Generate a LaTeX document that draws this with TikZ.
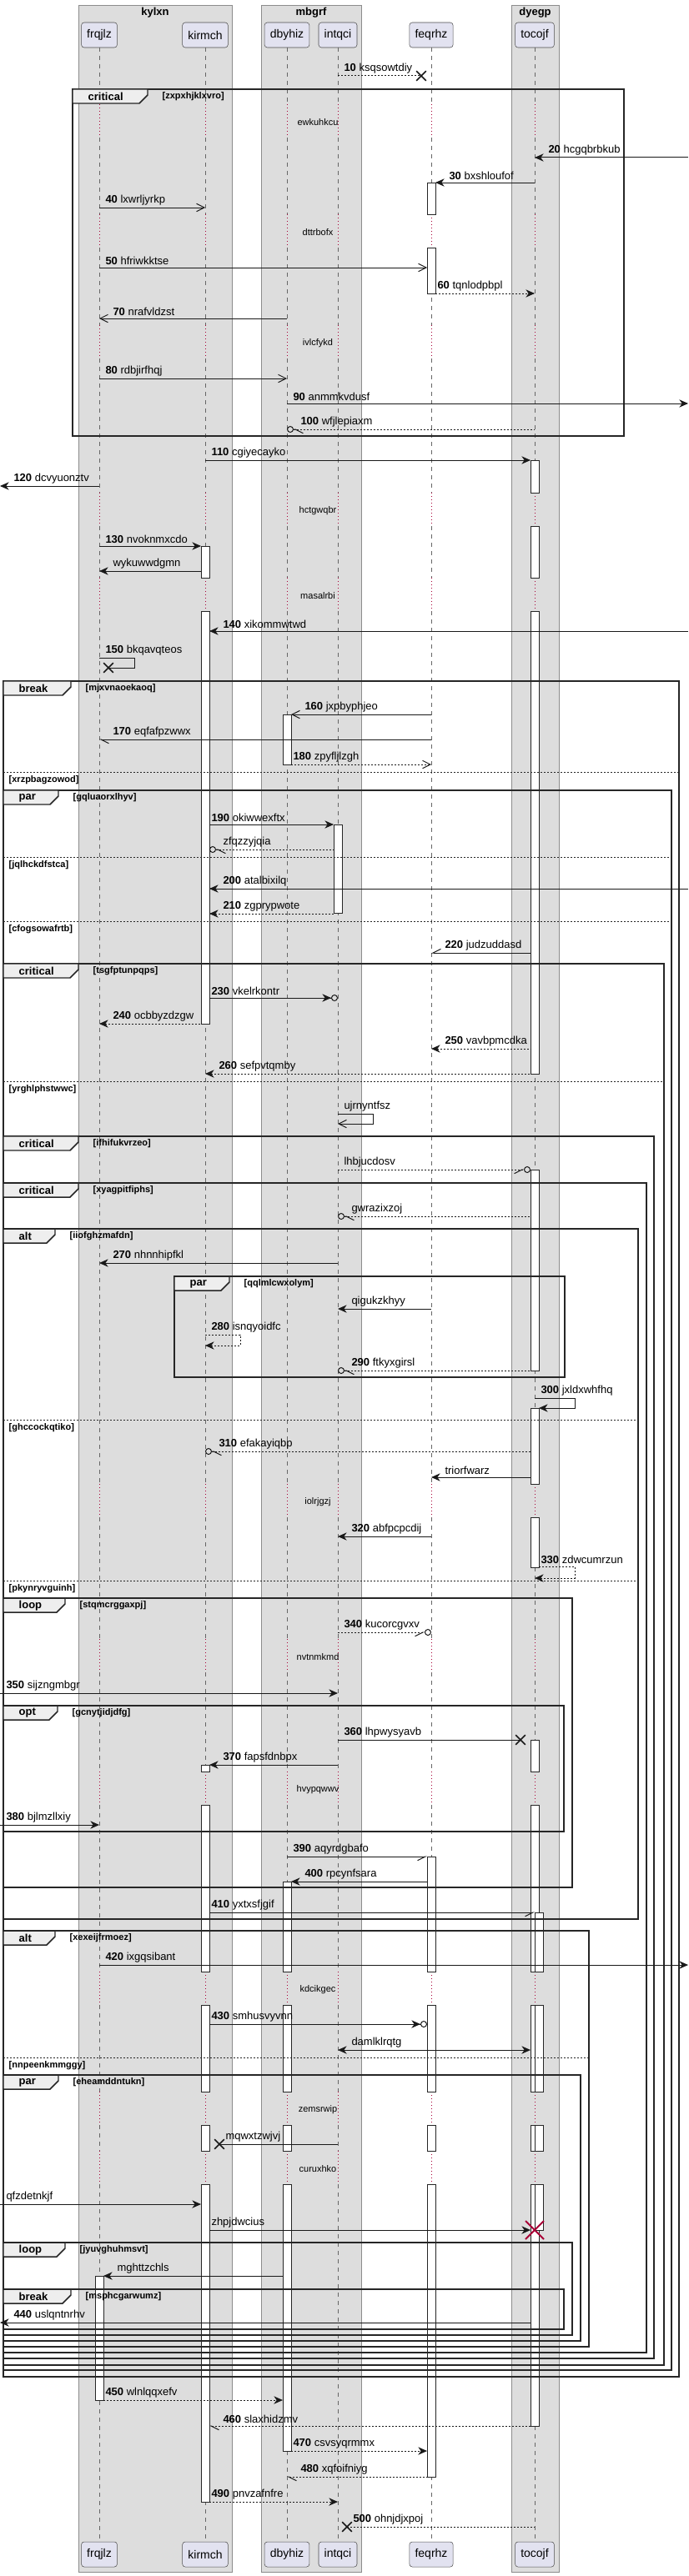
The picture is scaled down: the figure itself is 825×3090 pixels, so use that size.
\documentclass[tikz,border=0pt]{standalone}
\usepackage{fontspec}
\setmainfont{Liberation Sans}
\usetikzlibrary{arrows.meta,shapes.misc}
\definecolor{partfill}{HTML}{E2E2F0}
\definecolor{boxfill}{HTML}{DDDDDD}
\definecolor{tabfill}{HTML}{EEEEEE}
\definecolor{delayred}{HTML}{A80036}

\begin{document}
\begin{tikzpicture}[x=0.75pt,y=-0.75pt,>={Stealth[length=8pt,width=7pt,inset=2.5pt]}]
  \tikzset{part/.style={draw=black!70, fill=partfill, rounded corners=2.5pt, minimum height=22.5pt, inner xsep=5pt, font=\fontsize{10.5}{12}\selectfont},
    grp/.style={draw=black!45, fill=boxfill},
    grptitle/.style={font=\bfseries\fontsize{9.75}{11}\selectfont},
    life/.style={draw=black!60, line width=0.5pt, dash pattern=on 3.75pt off 3.75pt},
    lifed/.style={draw=delayred, line width=0.6pt, dash pattern=on 0.75pt off 2.25pt},
    act/.style={draw=black!85, fill=white, line width=0.6pt},
    dly/.style={font=\fontsize{8.25}{10}\selectfont},
    frm/.style={draw=black!85, line width=1.1pt},
    tabs/.style={draw=black!85, fill=tabfill, line width=1.1pt},
    ftitle/.style={anchor=west, font=\bfseries\fontsize{9.75}{11}\selectfont},
    fcond/.style={anchor=west, font=\bfseries\fontsize{8.25}{10}\selectfont},
    els/.style={draw=black!85, line width=0.6pt, dash pattern=on 1.5pt off 1.5pt},
    smsg/.style={draw=black!90, line width=0.75pt},
    dmsg/.style={smsg, dash pattern=on 1.5pt off 1.5pt},
    mlab/.style={anchor=south west, inner sep=0pt, yshift=2pt, font=\fontsize{9.75}{11}\selectfont},
    lr/.style={mlab, xshift=5.25pt},
    ll/.style={mlab, xshift=12pt},
    llb/.style={mlab, xshift=15.75pt},
    sl/.style={shorten <=3.75pt},
    sr/.style={shorten >=3.75pt},
    ao/.style={-{Straight Barb[length=7pt,width=7pt]}},
    bo/.style={{Straight Barb[length=7pt,width=7pt]}-},
    ahl/.style={-{Straight Barb[length=7pt,width=7pt,right]}},
    bhl/.style={{Straight Barb[length=7pt,width=7pt,left]}-},
    bhu/.style={{Straight Barb[length=7pt,width=7pt,right]}-},
    ac/.style={-{Stealth[length=8pt,width=7pt,inset=2.5pt] Circle[open,length=6pt]}},
    ac2/.style={-{Straight Barb[length=7pt,width=7pt,right] Circle[open,length=6pt]}},
    bc/.style={{Circle[open,length=6pt] Straight Barb[length=7pt,width=7pt,left]}-},
    xm/.style={cross out, draw=black!90, line width=1.2pt, minimum size=7.5pt, inner sep=0pt},
    xd/.style={cross out, draw=delayred, line width=1.5pt, minimum size=15pt, inner sep=0pt}}
  \useasboundingbox (0,0) rectangle (825,3090);
%%% boxes
  \draw[grp] (94,6) rectangle (278,3085);
  \draw[grp] (313,6) rectangle (433,3085);
  \draw[grp] (613,6) rectangle (670,3085);
  \node[grptitle] (kylxn) at (186,15) {kylxn};
  \node[grptitle] (mbgrf) at (373,15) {mbgrf};
  \node[grptitle] (dyegp) at (641.5,15) {dyegp};
%%% participants
  \foreach \p/\x in {frqjlz/119,kirmch/246,dbyhiz/344,intqci/405,feqrhz/517,tocojf/641}{
    \node[part] (\p) at (\x,42) {\p};
    \node[part] (\p2) at (\x,3064) {\p};
  }
  \coordinate (lft) at (0,0);
  \coordinate (rgt) at (825,0);
%%% lifelines, red where delayed
  \foreach \p in {frqjlz,kirmch,dbyhiz,intqci,feqrhz,tocojf}{
    \foreach \a/\b in {57/125,165/257,297/390,430/591,631/693,733/1780,1820/1966,2006/2125,2165/2365,2405/2509,2549/2580,2620/3048}
      \draw[life] (\p |- 0,\a) -- (\p |- 0,\b);
    \foreach \a/\b in {125/165,257/297,390/430,591/631,693/733,1780/1820,1966/2006,2125/2165,2365/2405,2509/2549,2580/2620}
      \draw[lifed] (\p |- 0,\a) -- (\p |- 0,\b);
  }
  \foreach \c/\dtxt [count=\i] in {147/ewkuhkcu,279/dttrbofx,412/ivlcfykd,613/hctgwqbr,715/masalrbi,1802/iolrjgzj,1988/nvtnmkmd,2147/hvypqwwv,2387/kdcikgec,2531/zemsrwip,2602/curuxhko}
    \node[dly] (dl\i) at (381,\c) {\dtxt};
%%% activations
  \foreach \p/\dx/\a/\b in {feqrhz/0/219/257,feqrhz/0/297/352,feqrhz/0/2227/2365,feqrhz/0/2405/2509,feqrhz/0/2549/2580,feqrhz/0/2620/2971,
      tocojf/0/552/591,tocojf/0/631/693,tocojf/0/733/1288,tocojf/0/1403/1644,tocojf/0/1689/1780,tocojf/0/1820/1880,tocojf/0/2087/2125,
      tocojf/0/2165/2365,tocojf/0/2405/2509,tocojf/0/2549/2580,tocojf/0/2620/2910,
      tocojf/3.75/2294/2365,tocojf/3.75/2405/2509,tocojf/3.75/2549/2580,tocojf/3.75/2620/2675,
      kirmch/0/655/693,kirmch/0/733/1228,kirmch/0/2117/2125,kirmch/0/2165/2365,kirmch/0/2405/2509,kirmch/0/2549/2580,kirmch/0/2620/3001,
      dbyhiz/0/857/917,dbyhiz/0/2257/2365,dbyhiz/0/2405/2509,dbyhiz/0/2549/2580,dbyhiz/0/2620/2940,
      intqci/0/989/1095,frqjlz/0/2730/2879}
    \draw[act] ([xshift=\dx*1pt-3.75pt]\p |- 0,\a) rectangle ([xshift=\dx*1pt+3.75pt]\p |- 0,\b);
%%% groups
  \foreach \xa/\ya/\xb/\yb/\kind/\tw/\cond [count=\i] in {87/107/748/523/critical/90/zxpxhjklxvro,
      4/817/814/2851/break/81/mjxvnaoekaoq,4/948/805/2843/par/66/gqluaorxlhyv,
      4/1156/796/2837/critical/90/tsgfptunpqps,4/1363/784/2829/critical/90/ifhifukvrzeo,
      4/1419/775/2822/critical/90/xyagpitfiphs,4/1474/765/2302/alt/62/iiofghzmafdn,
      209/1531/677/1652/par/66/qqlmlcwxolym,4/1917/686/2264/loop/74/stqmcrggaxpj,
      4/2046/676/2197/opt/65/gcnytjidjdfg,4/2316/706/2815/alt/62/xexeijfrmoez,
      4/2489/696/2808/par/66/eheamddntukn,4/2690/686/2801/loop/74/jyuvghuhmsvt,
      4/2746/676/2794/break/81/msphcgarwumz}{
    \draw[frm] (\xa,\ya) rectangle (\xb,\yb);
    \draw[tabs] (\xa,\ya) -- (\xa+\tw,\ya) -- (\xa+\tw,\ya+7) -- (\xa+\tw-10,\ya+17) -- (\xa,\ya+17) -- cycle;
    \node[ftitle] (fk\i) at (\xa+14,\ya+9) {\kind};
    \node[fcond] (fc\i) at (\xa+\tw+13,\ya+9) {[\cond]};
  }
  \foreach \xa/\xb/\y/\cond [count=\i] in {4/814/926/xrzpbagzowod,4/805/1028/jqlhckdfstca,4/805/1105/cfogsowafrtb,
      4/796/1297/yrghlphstwwc,4/765/1703/ghccockqtiko,4/765/1896/pkynryvguinh,4/706/2468/nnpeenkmmggy}{
    \draw[els] (\xa,\y) -- (\xb,\y);
    \node[fcond] (ec\i) at (\xa+2,\y+10) {[\cond]};
  }
%%% messages
  \node[xm] (x1) at ([xshift=-9pt]feqrhz |- 0,91) {};
  \draw[dmsg] (intqci |- 0,91) node[lr] (m1) {\textbf{10} ksqsowtdiy} -- (x1.center);
  \draw[smsg,<-] (tocojf |- 0,189) node[ll] (m2) {\textbf{20} hcgqbrbkub} -- (rgt |- 0,189);
  \draw[smsg,<-,sl] (feqrhz |- 0,219) node[llb] (m3) {\textbf{30} bxshloufof} -- (tocojf |- 0,219);
  \draw[smsg,ao] (frqjlz |- 0,249) node[lr] (m4) {\textbf{40} lxwrljyrkp} -- (kirmch |- 0,249);
  \draw[smsg,ao,sr] (frqjlz |- 0,321) node[lr] (m5) {\textbf{50} hfriwkktse} -- (feqrhz |- 0,321);
  \draw[dmsg,->,sl] (feqrhz |- 0,352) node[lr] (m6) {\textbf{60} tqnlodpbpl} -- (tocojf |- 0,352);
  \draw[smsg,bo] (frqjlz |- 0,382) node[ll] (m7) {\textbf{70} nrafvldzst} -- (dbyhiz |- 0,382);
  \draw[smsg,ao] (frqjlz |- 0,454) node[lr] (m8) {\textbf{80} rdbjirfhqj} -- (dbyhiz |- 0,454);
  \draw[smsg,->] (dbyhiz |- 0,484) node[lr] (m9) {\textbf{90} anmmkvdusf} -- (rgt |- 0,484);
  \draw[dmsg,bc] (dbyhiz |- 0,515) node[ll] (m10) {\textbf{100} wfjlepiaxm} -- (tocojf |- 0,515);
  \draw[smsg,->,sr] (kirmch |- 0,552) node[lr] (m11) {\textbf{110} cgiyecayko} -- (tocojf |- 0,552);
  \draw[smsg,<-] (lft |- 0,583) node[ll] (m12) {\textbf{120} dcvyuonztv} -- (frqjlz |- 0,583);
  \draw[smsg,->,sr] (frqjlz |- 0,655) node[lr] (m13) {\textbf{130} nvoknmxcdo} -- (kirmch |- 0,655);
  \draw[smsg,<-,sr] (frqjlz |- 0,685) node[ll] (m14) {wykuwwdgmn} -- (kirmch |- 0,685);
  \draw[smsg,<-,sl] (kirmch |- 0,757) node[llb] (m15) {\textbf{140} xikommwtwd} -- (rgt |- 0,757);
  \node[xm] (x2) at ([xshift=8.25pt]frqjlz |- 0,801) {};
  \draw[smsg] (frqjlz |- 0,789) node[lr] (m16) {\textbf{150} bkqavqteos} -- ++(42,0) -- ++(0,12) -- (x2.center);
  \draw[smsg,bo,sl] (dbyhiz |- 0,857) node[llb] (m17) {\textbf{160} jxpbyphjeo} -- (feqrhz |- 0,857);
  \draw[smsg,bhl] (frqjlz |- 0,887) node[ll] (m18) {\textbf{170} eqfafpzwwx} -- (feqrhz |- 0,887);
  \draw[dmsg,ao,sl] (dbyhiz |- 0,917) node[lr] (m19) {\textbf{180} zpyfljlzgh} -- (feqrhz |- 0,917);
  \draw[smsg,->,sl,sr] (kirmch |- 0,989) node[lr] (m20) {\textbf{190} okiwwexftx} -- (intqci |- 0,989);
  \draw[dmsg,bc,sl,sr] (kirmch |- 0,1019) node[llb] (m21) {zfqzzyjqia} -- (intqci |- 0,1019);
  \draw[smsg,<-,sl] (kirmch |- 0,1066) node[llb] (m22) {\textbf{200} atalbixilq} -- (rgt |- 0,1066);
  \draw[dmsg,<-,sl,sr] (kirmch |- 0,1096) node[llb] (m23) {\textbf{210} zgprypwote} -- (intqci |- 0,1096);
  \draw[smsg,bhu,sr] (feqrhz |- 0,1143) node[ll] (m24) {\textbf{220} judzuddasd} -- (tocojf |- 0,1143);
  \draw[smsg,ac,sl] (kirmch |- 0,1197) node[lr] (m25) {\textbf{230} vkelrkontr} -- (intqci |- 0,1197);
  \draw[dmsg,<-,sr] (frqjlz |- 0,1228) node[ll] (m26) {\textbf{240} ocbbyzdzgw} -- (kirmch |- 0,1228);
  \draw[dmsg,<-,sr] (feqrhz |- 0,1258) node[ll] (m27) {\textbf{250} vavbpmcdka} -- (tocojf |- 0,1258);
  \draw[dmsg,<-,sr] (kirmch |- 0,1288) node[ll] (m28) {\textbf{260} sefpvtqmby} -- (tocojf |- 0,1288);
  \draw[smsg,ao] (intqci |- 0,1336) node[lr] (m29) {ujrnyntfsz} -- ++(42,0) -- ++(0,12) -- (intqci |- 0,1348);
  \draw[dmsg,ac2,sr] (intqci |- 0,1403) node[lr] (m30) {lhbjucdosv} -- (tocojf |- 0,1403);
  \draw[dmsg,bc,sr] (intqci |- 0,1459) node[ll] (m31) {gwrazixzoj} -- (tocojf |- 0,1459);
  \draw[smsg,<-] (frqjlz |- 0,1515) node[ll] (m32) {\textbf{270} nhnnhipfkl} -- (intqci |- 0,1515);
  \draw[smsg,<-] (intqci |- 0,1570) node[ll] (m33) {qigukzkhyy} -- (feqrhz |- 0,1570);
  \draw[dmsg,->] (kirmch |- 0,1601) node[lr] (m34) {\textbf{280} isnqyoidfc} -- ++(42,0) -- ++(0,13) -- (kirmch |- 0,1614);
  \draw[dmsg,bc,sr] (intqci |- 0,1644) node[ll] (m35) {\textbf{290} ftkyxgirsl} -- (tocojf |- 0,1644);
  \draw[smsg,->,sr] (tocojf |- 0,1677) node[lr] (m36) {\textbf{300} jxldxwhfhq} -- ++(48,0) -- ++(0,12) -- (tocojf |- 0,1689);
  \draw[dmsg,bc,sr] (kirmch |- 0,1741) node[ll] (m37) {\textbf{310} efakayiqbp} -- (tocojf |- 0,1741);
  \draw[smsg,<-,sr] (feqrhz |- 0,1772) node[ll] (m38) {triorfwarz} -- (tocojf |- 0,1772);
  \draw[smsg,<-] (intqci |- 0,1843) node[ll] (m39) {\textbf{320} abfpcpcdij} -- (feqrhz |- 0,1843);
  \draw[dmsg,->,sl] (tocojf |- 0,1879) node[lr] (m40) {\textbf{330} zdwcumrzun} -- ++(48,0) -- ++(0,14) -- (tocojf |- 0,1893);
  \draw[dmsg,ac2] (intqci |- 0,1958) node[lr] (m41) {\textbf{340} kucorcgvxv} -- (feqrhz |- 0,1958);
  \draw[smsg,->] (lft |- 0,2031) node[lr] (m42) {\textbf{350} sijzngmbgr} -- (intqci |- 0,2031);
  \node[xm] (x3) at ([xshift=-12.75pt]tocojf |- 0,2087) {};
  \draw[smsg] (intqci |- 0,2087) node[lr] (m43) {\textbf{360} lhpwysyavb} -- (x3.center);
  \draw[smsg,<-,sl] (kirmch |- 0,2117) node[llb] (m44) {\textbf{370} fapsfdnbpx} -- (intqci |- 0,2117);
  \draw[smsg,->] (lft |- 0,2189) node[lr] (m45) {\textbf{380} bjlmzllxiy} -- (frqjlz |- 0,2189);
  \draw[smsg,ahl,sr] (dbyhiz |- 0,2227) node[lr] (m46) {\textbf{390} aqyrdgbafo} -- (feqrhz |- 0,2227);
  \draw[smsg,<-,sl,sr] (dbyhiz |- 0,2257) node[llb] (m47) {\textbf{400} rpcynfsara} -- (feqrhz |- 0,2257);
  \draw[smsg,ahl,sl] (kirmch |- 0,2294) node[lr] (m48) {\textbf{410} yxtxsfjgif} -- (tocojf |- 0,2294);
  \draw[smsg,->] (frqjlz |- 0,2357) node[lr] (m49) {\textbf{420} ixgqsibant} -- (rgt |- 0,2357);
  \draw[smsg,ac,sl,sr] (kirmch |- 0,2428) node[lr] (m50) {\textbf{430} smhusvyvnn} -- (feqrhz |- 0,2428);
  \draw[smsg,<->,sr] (intqci |- 0,2459) node[ll] (m51) {damlklrqtg} -- (tocojf |- 0,2459);
  \node[xm] (x4) at ([xshift=12.75pt]kirmch |- 0,2572) {};
  \draw[smsg] (x4.center) node[lr] (m52) {mqwxtzwjvj} -- (intqci |- 0,2572);
  \draw[smsg,->,sr] (lft |- 0,2644) node[lr] (m53) {qfzdetnkjf} -- (kirmch |- 0,2644);
  \draw[smsg,->,sl,sr] (kirmch |- 0,2675) node[lr] (m54) {zhpjdwcius} -- (tocojf |- 0,2675);
  \node[xd] (x5) at (tocojf |- 0,2675) {};
  \draw[smsg,<-,sl,sr] (frqjlz |- 0,2730) node[llb] (m55) {mghttzchls} -- (dbyhiz |- 0,2730);
  \draw[smsg,<-,sr] (lft |- 0,2786) node[ll] (m56) {\textbf{440} uslqntnrhv} -- (tocojf |- 0,2786);
  \draw[dmsg,->,sl,sr] (frqjlz |- 0,2879) node[lr] (m57) {\textbf{450} wlnlqqxefv} -- (dbyhiz |- 0,2879);
  \draw[dmsg,bhl,sl,sr] (kirmch |- 0,2910) node[llb] (m58) {\textbf{460} slaxhidzmv} -- (tocojf |- 0,2910);
  \draw[dmsg,->,sl,sr] (dbyhiz |- 0,2940) node[lr] (m59) {\textbf{470} csvsyqrmmx} -- (feqrhz |- 0,2940);
  \draw[dmsg,bhl,sr] (dbyhiz |- 0,2971) node[ll] (m60) {\textbf{480} xqfoifniyg} -- (feqrhz |- 0,2971);
  \draw[dmsg,->,sl] (kirmch |- 0,3001) node[lr] (m61) {\textbf{490} pnvzafnfre} -- (intqci |- 0,3001);
  \node[xm] (x6) at ([xshift=8.25pt]intqci |- 0,3031) {};
  \draw[dmsg] (x6.center) node[lr] (m62) {\textbf{500} ohnjdjxpoj} -- (tocojf |- 0,3031);
\end{tikzpicture}
\end{document}
